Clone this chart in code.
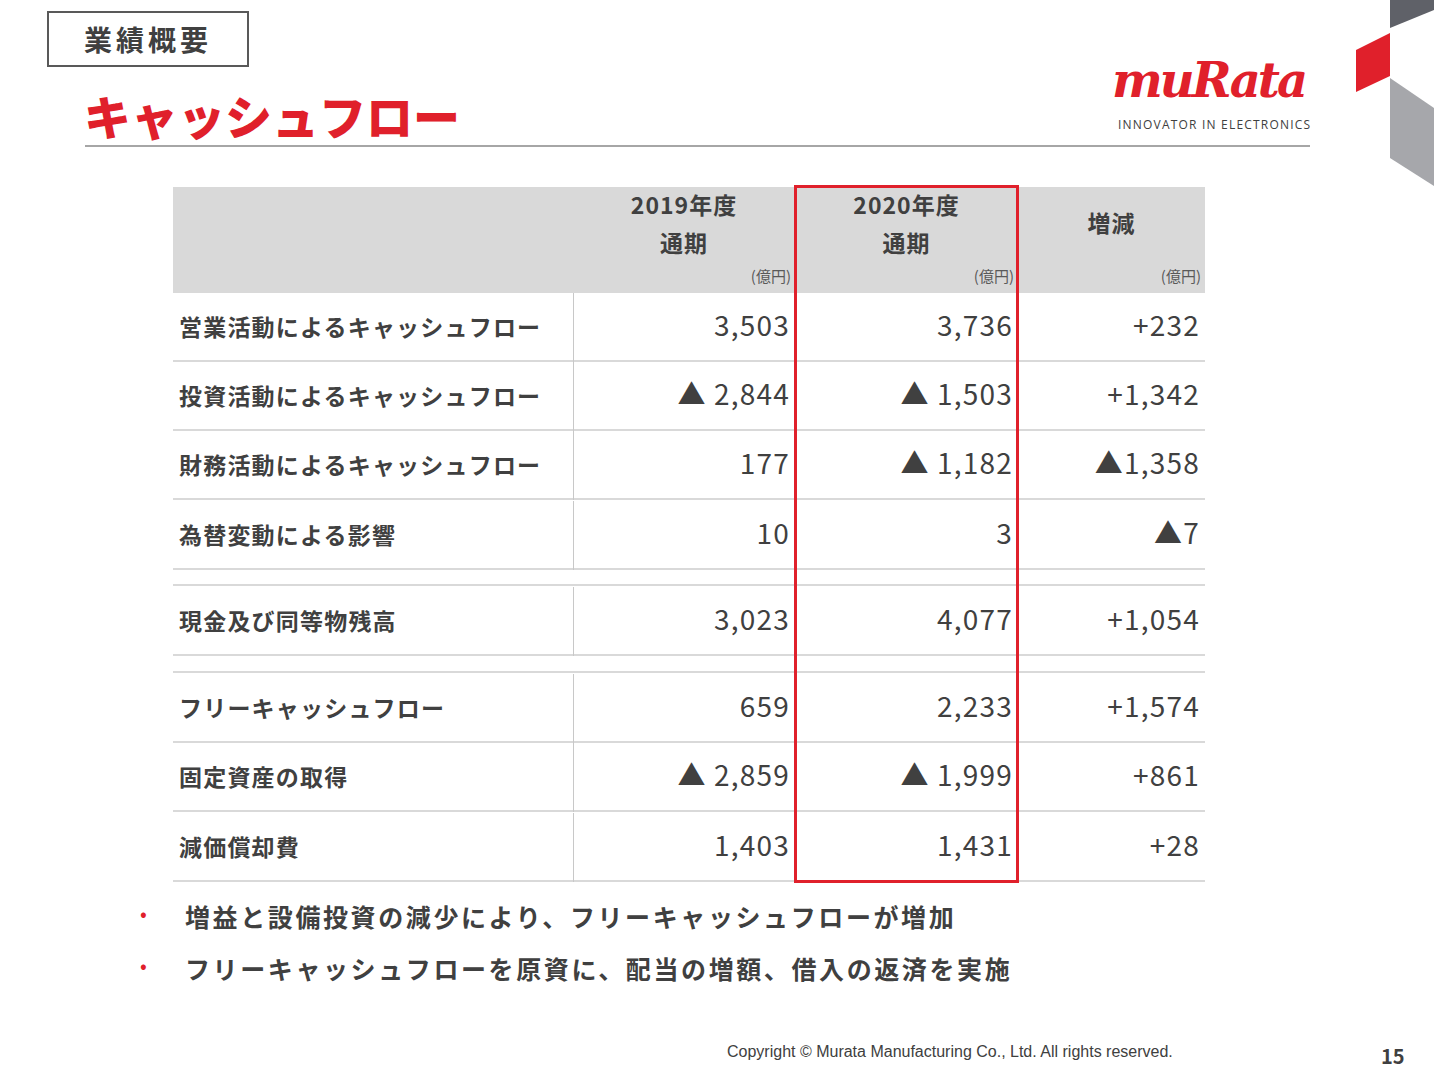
<!DOCTYPE html>
<html><head><meta charset="utf-8">
<script src="https://cdn.jsdelivr.net/npm/chart.js@4"></script>
<style>
body{margin:0;width:1434px;height:1076px;background:#fff;font-family:"Noto Sans CJK JP","Noto Sans",sans-serif;position:relative;overflow:hidden;color:#404040}
.abs{position:absolute}
#tag{left:47px;top:11px;width:202px;height:56px;border:2px solid #595959;box-sizing:border-box;font-size:28px;font-weight:bold;text-align:center;line-height:52px;letter-spacing:4px;color:#404040}
#title{left:84px;top:80px;font-size:47px;font-weight:900;color:#e0202b;letter-spacing:0px}
#rule{left:85px;top:145px;width:1225px;height:2px;background:#a6a6a6}
#logo{left:1112px;top:52px;font-family:"DejaVu Serif",serif;font-style:italic;font-weight:bold;font-size:48px;color:#e0202b;letter-spacing:-3px}
#logo2{left:1118px;top:116px;font-size:12px;letter-spacing:1.2px;color:#404040;font-family:"Open Sans",sans-serif}
#tbl{left:173px;top:187px;width:1032px}
.row{position:absolute;left:0;width:1032px;border-bottom:2px solid #d9d9d9;box-sizing:border-box}
.lab{position:absolute;left:6px;font-size:23px;font-weight:bold;color:#404040;letter-spacing:1.2px}
.v{position:absolute;font-size:28px;text-align:right;color:#404040;letter-spacing:1.2px}
.sep{position:absolute;left:400px;width:1px;background:#c8c8c8}
.hd{position:absolute;font-size:23px;font-weight:bold;text-align:center;line-height:38px;color:#404040;letter-spacing:1px}
.unit{position:absolute;font-size:15px;text-align:right;color:#595959}
.bul{font-size:25px;font-weight:bold;color:#404040;letter-spacing:2.6px}
.dot{color:#e0202b;font-size:20px}
</style></head><body>
<div id="tag" class="abs">業績概要</div>
<div id="title" class="abs">キャッシュフロー</div>
<div id="rule" class="abs"></div>
<div id="logo" class="abs">muRata</div>
<div id="logo2" class="abs">INNOVATOR IN ELECTRONICS</div>
<svg class="abs" style="left:1350px;top:0" width="84" height="190">
<polygon points="40,0 84,0 84,10 40,28" fill="#5f6168"/>
<polygon points="6,50 40,33 40,76 6,92" fill="#e0202b"/>
<polygon points="40,78 84,108 84,186 40,158" fill="#a6a7ab"/>
</svg>
<div id="tbl" class="abs"><canvas id="c" style="display:none"></canvas></div>
<div class="abs" style="left:140px;top:898px"><span class="dot">•</span></div>
<div class="abs bul" style="left:185px;top:898px">増益と設備投資の減少により、フリーキャッシュフローが増加</div>
<div class="abs" style="left:140px;top:950px"><span class="dot">•</span></div>
<div class="abs bul" style="left:185px;top:950px">フリーキャッシュフローを原資に、配当の増額、借入の返済を実施</div>
<div class="abs" style="left:727px;top:1043px;font-size:16px;font-family:'Liberation Sans',sans-serif;color:#404040">Copyright © Murata Manufacturing Co., Ltd. All rights reserved.</div>
<div class="abs" style="left:1381px;top:1041px;font-size:20px;font-weight:bold;color:#404040">15</div>
<script>
const columns = ["2019年度<br>通期", "2020年度<br>通期", "増減"];
const unit = "(億円)";
const rowLabels = ["営業活動によるキャッシュフロー","投資活動によるキャッシュフロー","財務活動によるキャッシュフロー","為替変動による影響","現金及び同等物残高","フリーキャッシュフロー","固定資産の取得","減価償却費"];
const fy2019 = ["3,503","▲ 2,844","177","10","3,023","659","▲ 2,859","1,403"];
const fy2020 = ["3,736","▲ 1,503","▲ 1,182","3","4,077","2,233","▲ 1,999","1,431"];
const change = ["+232","+1,342","▲1,358","▲7","+1,054","+1,574","+861","+28"];
const rowTops = [106,175,244,314,400,487,556,626]; // relative to table top
const colEdges = [400,622,845,1032];

const t = document.getElementById("tbl");
let h = '<div style="position:absolute;left:0;top:0;width:1032px;height:106px;background:#d9d9d9"></div>';
[0,1,2].forEach(i=>{
  const l=colEdges[i], w=colEdges[i+1]-l;
  const top = i===2 ? 16 : -2;
  h+=`<div class="hd" style="left:${l}px;top:${top}px;width:${w}px">${columns[i]}</div>`;
  h+=`<div class="unit" style="left:${l}px;top:78px;width:${w-4}px">${unit}</div>`;
});
h+='<div style="position:absolute;left:0;top:397px;width:1032px;border-top:2px solid #d9d9d9"></div>';
h+='<div style="position:absolute;left:0;top:484px;width:1032px;border-top:2px solid #d9d9d9"></div>';
rowLabels.forEach((lab,i)=>{
  const y=rowTops[i], ht=69;
  h+=`<div class="row" style="top:${y}px;height:${ht}px">
   <div class="lab" style="top:16px">${lab}</div>
   <div class="sep" style="top:0;height:${ht}px"></div>
   <div class="v" style="right:${1032-622+5}px;top:11px">${fy2019[i]}</div>
   <div class="v" style="right:${1032-845+5}px;top:11px">${fy2020[i]}</div>
   <div class="v" style="right:5px;top:11px">${change[i]}</div></div>`;
});
h+='<div style="position:absolute;left:621px;top:-2px;width:225px;height:698px;border:3px solid #e0202b;box-sizing:border-box"></div>';
t.insertAdjacentHTML("beforeend",h);
</script>
</body></html>
